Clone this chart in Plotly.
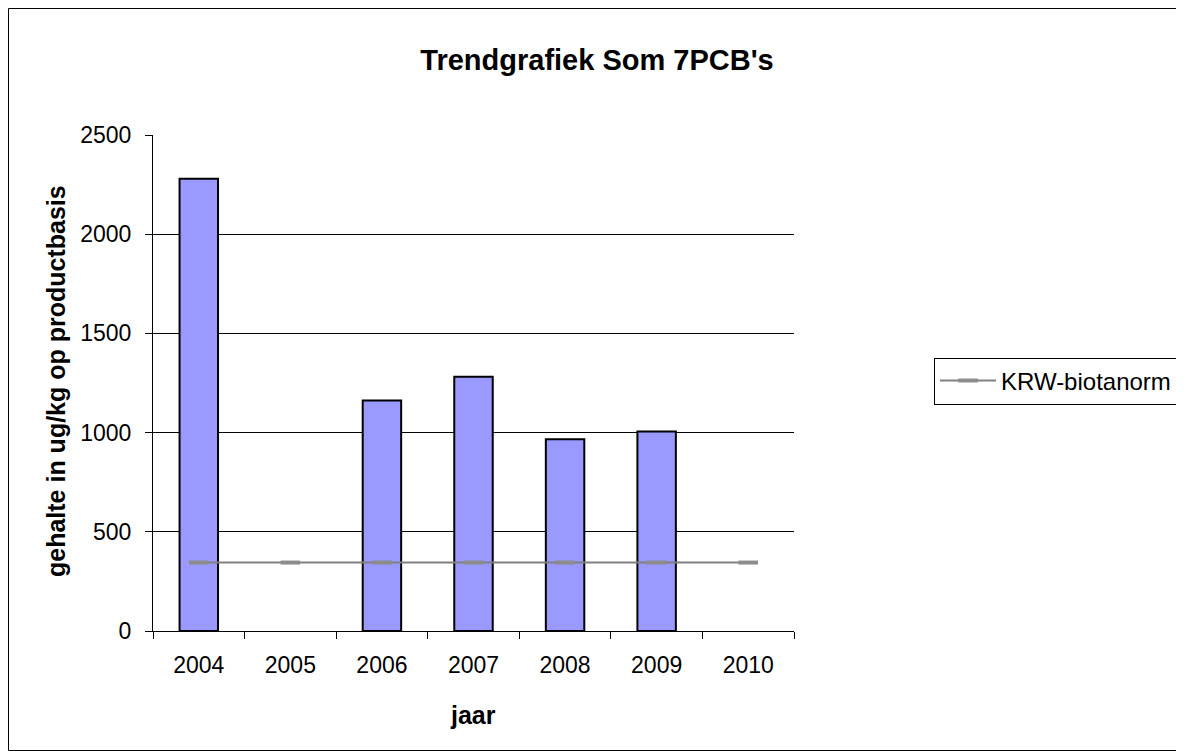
import plotly.graph_objects as go

# gegevens
jaren = ["2004", "2005", "2006", "2007", "2008", "2009", "2010"]
som_7pcb = [2280, None, 1162, 1282, 966, 1005, None]
krw_norm = [345, 345, 345, 345, 345, 345, 345]

# plotgebied (pagina heeft 8px body-marge)
W, H = 1176, 743
L, R, T, B = 145, 390, 127, 120
pw, ph = W - L - R, H - T - B

fig = go.Figure()

fig.add_trace(go.Bar(
    x=jaren,
    y=som_7pcb,
    width=0.42,
    marker=dict(color="#9999ff", line=dict(color="#000000", width=2)),
    showlegend=False,
    name="Som 7PCB's",
))

fig.add_trace(go.Scatter(
    x=jaren,
    y=krw_norm,
    mode="lines+markers",
    name="KRW-biotanorm",
    line=dict(color="#808080", width=2),
    marker=dict(symbol="line-ew", size=14, color="#8c8c8c",
                line=dict(color="#8c8c8c", width=4)),
))

fig.update_layout(
    width=W,
    height=H,
    paper_bgcolor="white",
    plot_bgcolor="white",
    margin=dict(l=L, r=R, t=T, b=B, autoexpand=False),
    font=dict(family="Liberation Sans, Arial", size=23, color="#000000"),
    title=dict(
        text="<b>Trendgrafiek Som 7PCB's</b>",
        x=589 / W, xanchor="center",
        y=1 - 52 / H, yanchor="middle",
        font=dict(size=29),
    ),
    xaxis=dict(
        type="category",
        showline=True, linecolor="#000000", linewidth=1,
        ticks="outside", ticklen=7, tickcolor="#000000",
        tickson="boundaries",
        ticklabelstandoff=13,
        showgrid=False,
    ),
    yaxis=dict(
        range=[0, 2500],
        dtick=500,
        showline=True, linecolor="#000000", linewidth=1,
        ticks="outside", ticklen=7, tickcolor="#000000",
        ticklabelstandoff=9,
        showgrid=True, gridcolor="#000000", gridwidth=1,
        zeroline=False,
    ),
    legend=dict(
        x=(934 - 153) / 641, xanchor="left",
        y=0.504, yanchor="middle",
        bordercolor="#000000", borderwidth=1,
        bgcolor="white",
        itemwidth=56,
        font=dict(size=24),
    ),
    annotations=[
        dict(
            text="<b>gehalte in ug/kg op productbasis</b>",
            xref="paper", yref="paper",
            x=(56 - 153) / 641, y=0.504,
            xanchor="center", yanchor="middle",
            textangle=-90, showarrow=False,
            font=dict(size=25),
        ),
        dict(
            text="<b>jaar</b>",
            xref="paper", yref="paper",
            x=0.499, y=(631 - 715) / 496,
            xanchor="center", yanchor="middle",
            showarrow=False,
            font=dict(size=25),
        ),
    ],
    shapes=[dict(
        type="rect", xref="paper", yref="paper",
        x0=(0.5 - L) / pw, x1=(W - 0.5 - L) / pw,
        y0=-(H - 0.5 - (T + ph)) / ph, y1=1 + (T - 0.5) / ph,
        line=dict(color="#000000", width=1),
    )],
)

fig.write_html("out.html")
